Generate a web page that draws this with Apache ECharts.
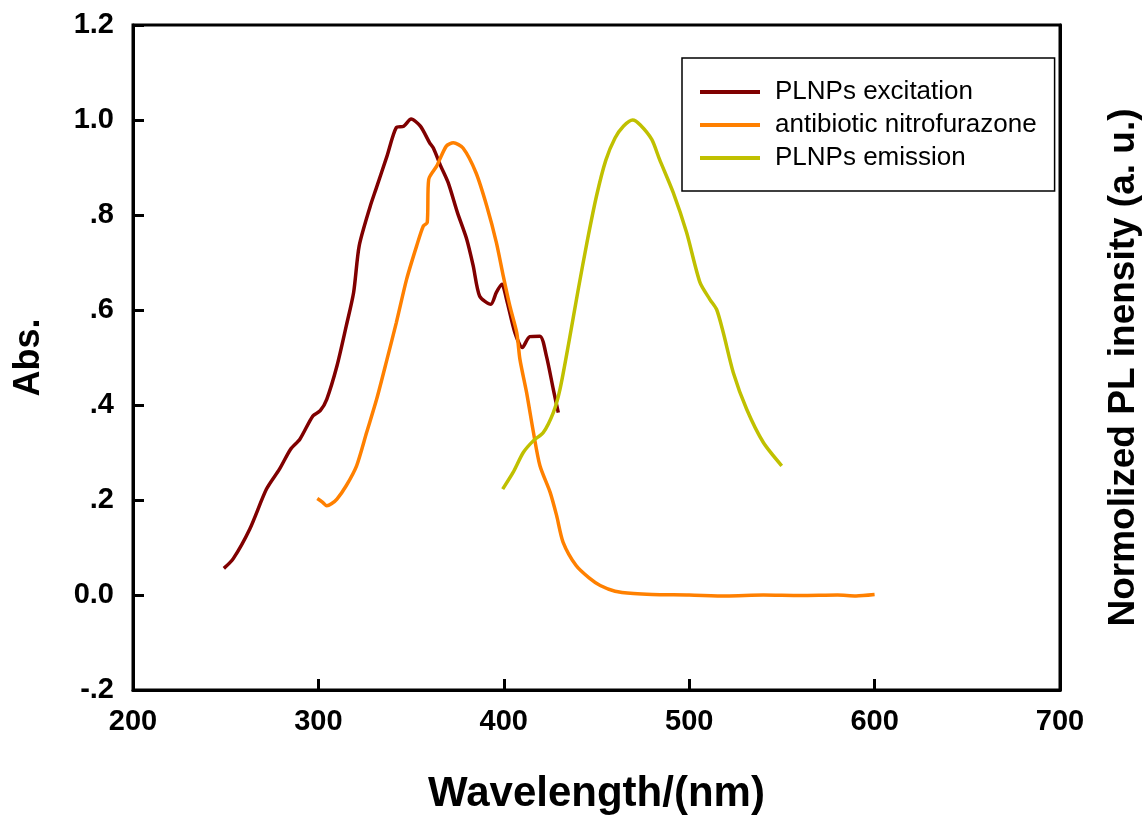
<!DOCTYPE html>
<html>
<head>
<meta charset="utf-8">
<script src="https://cdn.jsdelivr.net/npm/echarts@6/dist/echarts.min.js"></script>
<style>
  html, body { margin: 0; padding: 0; background: #fff; }
  #main { width: 1144px; height: 816px; }
</style>
</head>
<body>
<div id="main"></div>
<script>
// [wavelength nm, value]
var excitation = [
  [249, 0.056], [254, 0.076], [263, 0.139], [272, 0.223], [279, 0.265],
  [285, 0.307], [290, 0.328], [297, 0.377], [301, 0.388], [304.5, 0.412],
  [310, 0.482], [315, 0.566], [319, 0.637], [322, 0.735], [328, 0.819],
  [331, 0.854], [337, 0.924], [342, 0.984], [346, 0.987], [350, 1.002],
  [355, 0.987], [360, 0.952], [362, 0.941], [366, 0.903], [370, 0.868],
  [375, 0.805], [380, 0.749], [383.5, 0.693], [387, 0.629], [393, 0.612],
  [396, 0.637], [399, 0.654], [401.5, 0.622], [406, 0.552], [410, 0.521],
  [414, 0.544], [419.5, 0.545], [423, 0.503], [426.7, 0.433], [429.4, 0.384]
];
var nitrofurazone = [
  [299.4, 0.203], [302, 0.196], [304.5, 0.188], [307, 0.192], [310, 0.202],
  [315, 0.23], [320.6, 0.272], [326, 0.342], [331.4, 0.412], [337, 0.496],
  [342, 0.573], [347.6, 0.665], [353, 0.735], [356.6, 0.777], [358.7, 0.784],
  [359.5, 0.875], [363.8, 0.903], [369, 0.945], [372.8, 0.952], [378, 0.941],
  [385, 0.889], [390.8, 0.819], [396, 0.742], [399.7, 0.672], [403.3, 0.608],
  [407, 0.552], [408.7, 0.496], [412.3, 0.426], [416, 0.342], [419.5, 0.272],
  [425, 0.216], [428.5, 0.167], [432, 0.111], [439, 0.062], [446, 0.036],
  [452, 0.020], [460, 0.008], [470, 0.003], [480, 0.001], [500, 0.0],
  [520, -0.002], [540, 0.0], [560, -0.001], [580, 0.0], [590, -0.002], [600, 0.001]
];
var emission = [
  [399.4, 0.223], [405, 0.258], [410.5, 0.300], [416, 0.325], [421.3, 0.342],
  [426.7, 0.384], [430.3, 0.433], [435, 0.53], [440, 0.64], [445, 0.745],
  [450, 0.84], [455, 0.915], [460, 0.962], [464.5, 0.987],
  [469.5, 1.0], [473.5, 0.99], [479.8, 0.959], [484, 0.917], [491.4, 0.847],
  [498.6, 0.763], [505.8, 0.658], [511.2, 0.622], [514.8, 0.601], [518.4, 0.552],
  [523.8, 0.468], [531, 0.391], [540, 0.321], [549.9, 0.272]
];
var seriesNames = ["PLNPs excitation", "antibiotic nitrofurazone", "PLNPs emission"];
var seriesColors = ["#800000", "#ff8000", "#c0c000"];

var font = "Liberation Sans, Arial, sans-serif";
var myChart = echarts.init(document.getElementById("main"));

function yLabel(v) {
  if (Math.abs(v) < 1e-9) return "0.0";
  var s = v.toFixed(1);
  if (Math.abs(v) < 1) s = s.replace("0.", ".");
  return s;
}

var option = {
  animation: false,
  textStyle: { fontFamily: font },
  grid: {
    left: 133, right: 84, top: 25, bottom: 126,
    outerBoundsMode: "none",
    show: true, borderColor: "#000", borderWidth: 3
  },
  legend: {
    orient: "vertical",
    left: 682, top: 58,
    padding: [21, 18, 20, 18],
    itemGap: 7,
    itemWidth: 60, itemHeight: 4,
    icon: "rect",
    borderColor: "#000", borderWidth: 1.5,
    textStyle: { fontSize: 26, color: "#000", fontFamily: font, padding: [0, 0, 0, 10] },
    data: seriesNames
  },
  xAxis: {
    type: "value", min: 200, max: 700, interval: 100,
    name: "Wavelength/(nm)", nameLocation: "middle", nameGap: 83,
    nameTextStyle: { fontSize: 42, fontWeight: "bold", color: "#000" },
    axisLine: { onZero: false, lineStyle: { color: "#000", width: 3 } },
    axisTick: { inside: true, length: 11, lineStyle: { width: 3 } },
    axisLabel: { fontSize: 29, fontWeight: "bold", color: "#000", margin: 17 },
    splitLine: { show: false }
  },
  yAxis: [{
    type: "value", min: -0.2, max: 1.2, interval: 0.2,
    name: "Abs.", nameLocation: "middle", nameGap: 86,
    nameTextStyle: { fontSize: 36, fontWeight: "bold", color: "#000" },
    axisLine: { show: true, onZero: false, lineStyle: { color: "#000", width: 3 } },
    axisTick: { inside: true, length: 11, lineStyle: { width: 3 } },
    axisLabel: { fontSize: 29, fontWeight: "bold", color: "#000", margin: 19, formatter: yLabel },
    splitLine: { show: false }
  }, {
    type: "value", min: -0.2, max: 1.2, interval: 0.2, position: "right",
    name: "Normolized PL inensity (a. u.)", nameLocation: "middle", nameGap: 45, nameRotate: 90,
    nameTextStyle: { fontSize: 37, fontWeight: "bold", color: "#000", padding: [0, 20, 0, 0] },
    axisLine: { show: true, onZero: false, lineStyle: { color: "#000", width: 3 } },
    axisTick: { show: false },
    axisLabel: { show: false },
    splitLine: { show: false }
  }],
  series: [excitation, nitrofurazone, emission].map(function (d, i) {
    return {
      name: seriesNames[i],
      type: "line",
      data: d,
      smooth: 0.25,
      symbol: "none",
      color: seriesColors[i],
      lineStyle: { width: 3.5, color: seriesColors[i] }
    };
  })
};

myChart.setOption(option);
</script>
</body>
</html>
